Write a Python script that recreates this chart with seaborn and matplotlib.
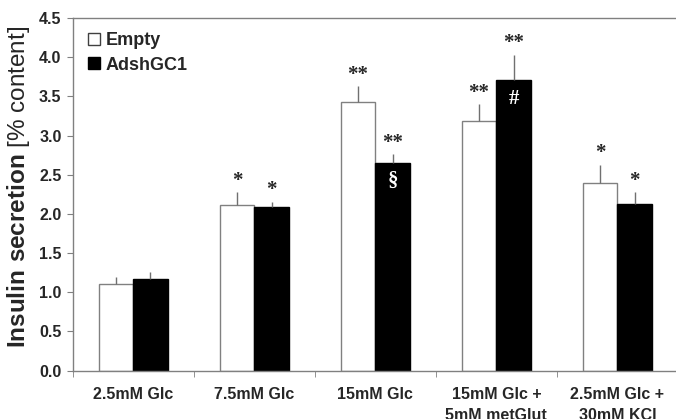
import pandas as pd
import matplotlib
matplotlib.use("Agg")
import matplotlib.pyplot as plt
import numpy as np
import seaborn as sns
from matplotlib.lines import Line2D

categories = ['2.5mM Glc', '7.5mM Glc', '15mM Glc', '15mM Glc +\n5mM metGlut', '2.5mM Glc +\n30mM KCl']
empty_vals = [1.10, 2.11, 3.43, 3.18, 2.40]
empty_err = [0.09, 0.165, 0.20, 0.22, 0.23]
adsh_vals = [1.165, 2.09, 2.65, 3.705, 2.13]
adsh_err = [0.09, 0.065, 0.11, 0.325, 0.15]
empty_marks = ['', '*', '**', '**', '*']
adsh_marks = ['', '*', '**', '**', '*']
adsh_inner = ['', '', '§', '#', '']
groups = ['Empty', 'AdshGC1']

sns.set_style('white')
plt.rcParams['font.family'] = ['Liberation Sans', 'DejaVu Sans']
plt.rcParams['mathtext.fontset'] = 'custom'
plt.rcParams['mathtext.rm'] = 'Liberation Sans'
plt.rcParams['mathtext.bf'] = 'Liberation Sans:bold'

df = pd.DataFrame({
    'cond': categories * 2,
    'group': ['Empty'] * 5 + ['AdshGC1'] * 5,
    'value': empty_vals + adsh_vals,
})

axcol = '#808080'
fig = plt.figure(figsize=(6.76, 4.19), dpi=100)
ax = fig.add_axes([0.1075, 0.1153, 0.8954, 0.8418])

sns.barplot(ax=ax, data=df, x='cond', y='value', hue='group', hue_order=groups,
            order=categories, palette={'Empty': 'white', 'AdshGC1': 'black'},
            width=0.57, gap=0, errorbar=None, legend=False, linewidth=1.0)

errs = {'Empty': empty_err, 'AdshGC1': adsh_err}
marks = {'Empty': empty_marks, 'AdshGC1': adsh_marks}
for container, g in zip(ax.containers, groups):
    for i, bar in enumerate(container):
        bar.set_edgecolor(axcol if g == 'Empty' else 'black')
        xc = bar.get_x() + bar.get_width() / 2
        top = bar.get_height()
        ax.vlines(xc, top, top + errs[g][i], color='#707070', lw=1.0, zorder=1)
        if marks[g][i]:
            ax.annotate(marks[g][i], (xc, top + errs[g][i]), xytext=(0, 1),
                        textcoords='offset points', ha='center', va='bottom',
                        fontsize=15, family='Liberation Serif', fontweight='bold')
        if g == 'AdshGC1' and adsh_inner[i]:
            ax.annotate(adsh_inner[i], (xc, top), xytext=(0, -6),
                        textcoords='offset points', ha='center', va='top',
                        fontsize=15, family='Liberation Serif', fontweight='bold',
                        color='white')

ax.set_xlim(-0.5, 4.5)
ax.set_ylim(0, 4.5)
ax.set_yticks(np.arange(0, 4.51, 0.5))
ax.set_yticklabels([f'{v:.1f}' for v in np.arange(0, 4.51, 0.5)], fontsize=11.5, fontweight='bold')
ax.set_xticks(range(5))
ax.set_xticklabels(categories, fontsize=11.5, fontweight='bold', linespacing=1.45)
ax.set_xticks(np.arange(-0.5, 4.6, 1), minor=True)
ax.tick_params(axis='x', which='major', length=0, pad=12)
ax.tick_params(axis='x', which='minor', length=4, color=axcol, direction='out', bottom=True)
ax.tick_params(axis='y', length=4, color=axcol, direction='out', left=True, pad=4)
for side in ['left', 'bottom', 'top']:
    ax.spines[side].set_color(axcol)
    ax.spines[side].set_linewidth(1.0)
ax.spines['right'].set_visible(False)

ax.set_xlabel('')
ax.set_ylabel(r'$\mathbf{Insulin\ secretion}$ [% content]', fontsize=17.5)
ax.yaxis.set_label_coords(-0.068, 0.522)

handles = [Line2D([], [], marker='s', ls='', markersize=8.5, markerfacecolor='white', markeredgecolor='#404040'),
           Line2D([], [], marker='s', ls='', markersize=8.5, markerfacecolor='black', markeredgecolor='black')]
leg = ax.legend(handles, groups, loc='upper left', bbox_to_anchor=(0.005, 0.99), frameon=False,
                handlelength=0.8, handletextpad=0.25, labelspacing=0.4, borderaxespad=0.2,
                prop={'weight': 'bold', 'size': 13})

fig.savefig('out.png', dpi=100)
